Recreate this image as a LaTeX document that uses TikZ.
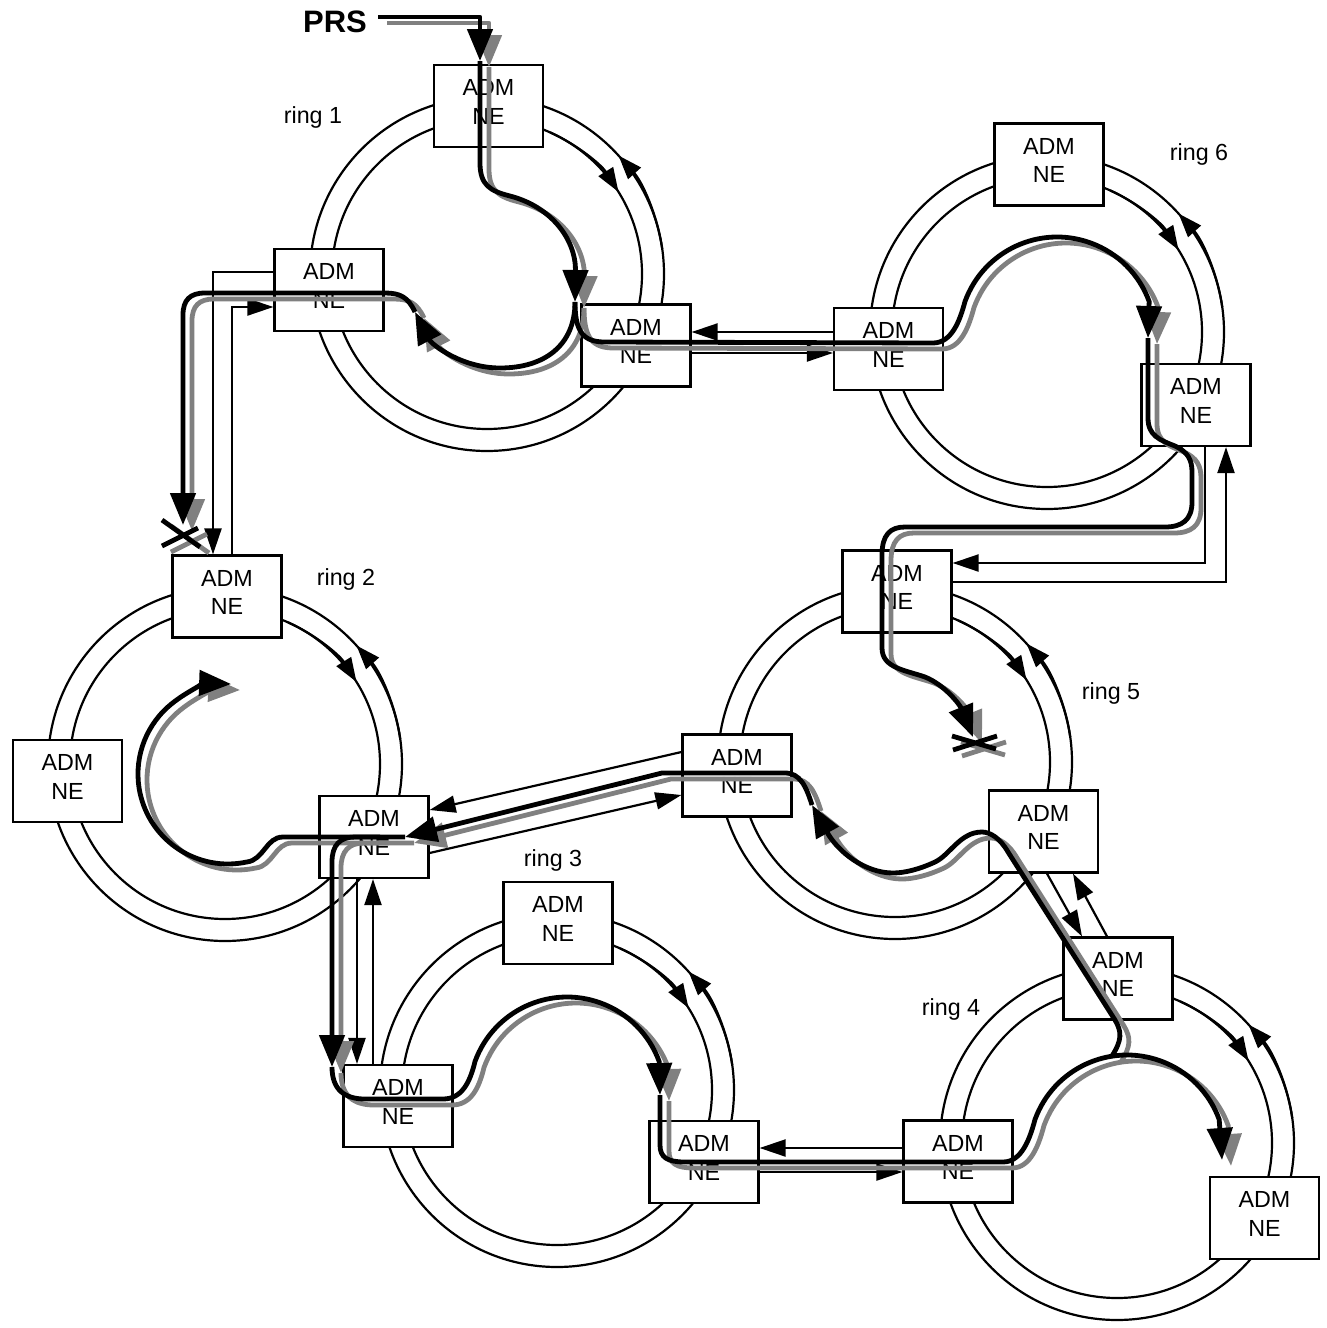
\documentclass[tikz,border=0pt]{standalone}
\usepackage{fontspec}
\setmainfont{Liberation Sans}
\usetikzlibrary{arrows.meta,calc}
\newcommand\admfont{\fontsize{23.3pt}{28.5pt}\selectfont}
\newcommand\ringat[1]{%
  \draw[ringline] (#1) circle[radius=177];
  \draw[ringline] (#1) circle[radius=155];
  \draw[ringline,rtip] ($(#1)+(-66:155)$) arc[start angle=-66,end angle=-32,radius=155];
  \draw[ringline,rtip] ($(#1)+(-8:177)$) arc[start angle=-8,end angle=-42,radius=177];
}
\newcommand\routes{%
  % PRS feed
  \draw[route,tip] (378,17) -- (480,17) -- (480,61);
  \draw[route,tip] (480,61) -- (480,163) .. controls (480,185) and (490,191) .. (510,196) .. controls (552,207) and (576,240) .. (575,302);
  % ring 1 -> ring 6
  \draw[route,tip] (575,302) .. controls (575,333) and (584,342) .. (605,342) -- (933,343) .. controls (952,343) and (960,320) .. (965,301.5) arc[start angle=200,end angle=340,radius=98] -- (1148,338);
  % ring 1 bottom
  \draw[route,tip] (575,302) .. controls (575,345) and (545,368) .. (500,368) .. controls (462,368) and (432,345) .. (415,312);
  % ring 1 -> ring 2
  \draw[route,tip] (415,312) .. controls (408,297) and (400,293) .. (385,293) -- (205,293) .. controls (190,293) and (183,300) .. (183,315) -- (183,525);
  \draw[route] (162,520) -- (200,547) (162,546) -- (198,528);
  % ring 6 -> ring 5
  \draw[route,tip] (1148,338) -- (1148,418) .. controls (1148,436) and (1160,440) .. (1175,446) .. controls (1188,452) and (1192,460) .. (1192,472) -- (1192,502) .. controls (1192,520) and (1182,527) .. (1165,527) -- (905,527) .. controls (890,527) and (882,535) .. (882,555) -- (882,648) .. controls (882,668) and (905,670) .. (925,677) .. controls (945,685) and (960,705) .. (973,737);
  \draw[route] (952,736) -- (996,749) (953,750) -- (997,736);
  % ring 3
  \draw[route,tip] (332,1067) .. controls (332,1090) and (345,1099) .. (365,1099) -- (443,1099) .. controls (462,1099) and (470,1082) .. (475,1061.5) arc[start angle=200,end angle=340,radius=98] -- (660,1095);
  % ring 3 -> ring 4
  \draw[route,tip] (660,1095) -- (660,1145) .. controls (660,1158) and (668,1162) .. (685,1162) -- (1003,1162) .. controls (1022,1162) and (1030,1138) .. (1035,1119.5) arc[start angle=200,end angle=340,radius=98] -- (1222,1160);
  % ring 4 -> ring 5
  \draw[route,tip] (1112,1056) .. controls (1122,1040) and (1122,1032) .. (1115,1020) -- (1008,852) .. controls (1000,838) and (990,832) .. (982,832) .. controls (960,832) and (950,855) .. (935,862) .. controls (920,869) and (905,873) .. (893,873) .. controls (865,873) and (838,852) .. (812,805);
  % ring 5 -> ring 2
  \draw[route,tip] (812,805) .. controls (806,786) and (800,773) .. (785,773) -- (662,773) -- (405,837);
  % ring 2
  \draw[route,tip] (405,837) -- (283,837) .. controls (266,837) and (264,860) .. (246.7,862) arc[start angle=78,end angle=272,radius=90];
  % ring 2 -> ring 3
  \draw[route,tip] (380,837) -- (355,837) .. controls (340,837) and (332,845) .. (332,862) -- (332,1067);
}
\begin{document}
\begin{tikzpicture}[x=1pt,y=-1pt,
  ringline/.style={line width=2.2pt},
  rtip/.style={-{Triangle[length=24pt,width=17pt]}},
  adm/.style={draw,line width=2.2pt,fill=white,minimum width=109pt,minimum height=82pt,inner sep=0pt,align=center,font=\admfont,text depth=8pt},
  link/.style={line width=2.2pt,-{Triangle[length=26pt,width=17pt]}},
  route/.style={line width=4.8pt,line join=round},
  tip/.style={-{Triangle[length=32pt,width=25pt]}},
  lbl/.style={anchor=base,font=\admfont}]
\useasboundingbox (0,0) rectangle (1327,1328);
% ring centres
\coordinate (r1) at (487,274);
\coordinate (r6) at (1047,332);
\coordinate (r2) at (225,764);
\coordinate (r5) at (895,762);
\coordinate (r3) at (557,1090);
\coordinate (r4) at (1117,1143);
\ringat{r1}\ringat{r6}\ringat{r2}\ringat{r5}\ringat{r3}\ringat{r4}
% ADM NE boxes
\node[adm] (b1t) at (488.5,106) {ADM\\NE};
\node[adm] (b1l) at (329,290) {ADM\\NE};
\node[adm] (b1r) at (636,345.5) {ADM\\NE};
\node[adm] (b6t) at (1049,164.5) {ADM\\NE};
\node[adm] (b6l) at (888.5,349) {ADM\\NE};
\node[adm] (b6r) at (1196,405) {ADM\\NE};
\node[adm] (b2t) at (227,596.5) {ADM\\NE};
\node[adm] (b2l) at (67.5,781) {ADM\\NE};
\node[adm] (b2r) at (374,837) {ADM\\NE};
\node[adm] (b5t) at (897,591.5) {ADM\\NE};
\node[adm] (b5l) at (737,775.5) {ADM\\NE};
\node[adm] (b5r) at (1043.5,831.5) {ADM\\NE};
\node[adm] (b3t) at (558,923) {ADM\\NE};
\node[adm] (b3l) at (398,1106) {ADM\\NE};
\node[adm] (b3r) at (704,1162) {ADM\\NE};
\node[adm] (b4t) at (1118,978.5) {ADM\\NE};
\node[adm] (b4l) at (958,1161.5) {ADM\\NE};
\node[adm] (b4r) at (1264.5,1218) {ADM\\NE};
% thin links between rings
\draw[link] (b6l.west |- 0,332) -- (b1r.east |- 0,332);
\draw[link] (b1r.east |- 0,353) -- (b6l.west |- 0,353);
\draw[link] (b1l.west |- 0,272) -- (213,272) -- (213,0 |- b2t.north);
\draw[link] (232,0 |- b2t.north) -- (232,307) -- (b1l.west |- 0,307);
\draw[link] (1205,0 |- b6r.south) -- (1205,563) -- (b5t.east |- 0,563);
\draw[link] (b5t.east |- 0,582) -- (1226,582) -- (1226,0 |- b6r.south);
\draw[link] (b5l.west |- 0,752) -- (b2r.east |- 0,810);
\draw[link] (b2r.east |- 0,853) -- (b5l.west |- 0,795);
\draw[link] (357,0 |- b2r.south) -- (357,0 |- b3l.north);
\draw[link] (373,0 |- b3l.north) -- (373,0 |- b2r.south);
\draw[link] (b4l.west |- 0,1148) -- (b3r.east |- 0,1148);
\draw[link] (b3r.east |- 0,1172) -- (b4l.west |- 0,1172);
\draw[link] (1047,0 |- b5r.south) -- (1082,0 |- b4t.north);
\draw[link] (1107,0 |- b4t.north) -- (1073,0 |- b5r.south);
% timing routes: grey copy offset, black on top
\begin{scope}[transform canvas={xshift=9pt,yshift=-6pt},color=gray]
\routes
\end{scope}
\begin{scope}[color=black]
\routes
\end{scope}
% labels
\node[anchor=base,font=\bfseries\fontsize{31pt}{36pt}\selectfont] (prs) at (335,32) {PRS};
\node[lbl] (l1) at (313,123) {ring 1};
\node[lbl] (l6) at (1199,160) {ring 6};
\node[lbl] (l2) at (346,585) {ring 2};
\node[lbl] (l5) at (1111,699) {ring 5};
\node[lbl] (l3) at (553,866) {ring 3};
\node[lbl] (l4) at (951,1015) {ring 4};
\end{tikzpicture}
\end{document}
